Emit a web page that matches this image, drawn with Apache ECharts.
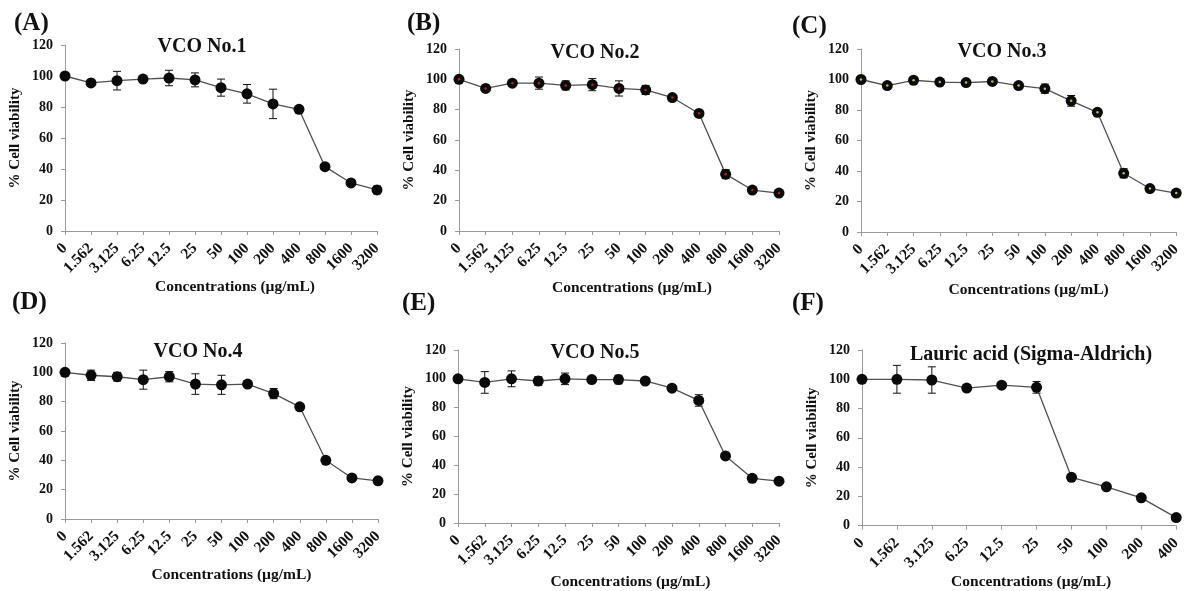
<!DOCTYPE html>
<html><head><meta charset="utf-8">
<script src="https://cdn.jsdelivr.net/npm/echarts@6/dist/echarts.min.js"></script>
<style>html,body{margin:0;padding:0;background:#fff}#c{width:1184px;height:591px}</style>
</head><body><div id="c"></div>
<script>
// ---- data ----
const concVCO = ['0','1.562','3.125','6.25','12.5','25','50','100','200','400','800','1600','3200'];
const concLA  = ['0','1.562','3.125','6.25','12.5','25','50','100','200','400'];
const yTicks = [0,20,40,60,80,100,120];

const vco1 = [100, 95.5, 97, 98, 98.7, 97.5, 92.5, 88.5, 82, 78.5, 41.5, 31, 26.5];
const vco1Err = [1, 1.5, 6, 1.5, 5, 4.5, 5.5, 6, 9.5, 1, 1, 1, 2.5];
const vco2 = [100, 94, 97.5, 97.5, 96, 96.5, 94, 93, 88, 77.5, 37.5, 27, 25];
const vco2Err = [1, 1, 1, 4, 3, 4, 5, 3, 1, 1, 3, 1, 1];
const vco3 = [100, 96, 99.5, 98.3, 98, 98.7, 96, 94, 86, 78.5, 38.5, 28.5, 25.5];
const vco3Err = [1, 1, 1, 1, 1, 1, 1, 3, 3.5, 1, 3, 1, 1];
const vco4 = [100, 98, 97, 95, 97, 92, 91.5, 92, 85.5, 76.5, 40, 28, 26];
const vco4Err = [1, 3.5, 3, 6.5, 3.5, 7, 6.5, 1, 3.5, 1, 1, 1, 1];
const vco5 = [100, 97.5, 100, 98.5, 100, 99.5, 99.5, 98.5, 93.5, 85, 46.5, 31, 29];
const vco5Err = [1, 7.5, 5.5, 3, 4, 1, 3, 1, 1, 4, 1, 1, 1];
const lauric = [100, 100, 99.5, 94, 96, 94.5, 33, 26.5, 19, 5.5];
const lauricErr = [1, 9.5, 9, 1, 1, 4, 1, 1, 1, 1];

const panelLetters = ['(A)','(B)','(C)','(D)','(E)','(F)'];
const panelTitles = ['VCO No.1','VCO No.2','VCO No.3','VCO No.4','VCO No.5','Lauric acid (Sigma-Aldrich)'];
const xName = 'Concentrations (µg/mL)';
const yName = '% Cell viability';

// ---- layout ----
const FONT = 'Liberation Serif';
const panels = [
  {cats: concVCO, v: vco1, e: vco1Err, grid:{left:65, top:45, width:312, height:186}, letter:[14,11], title:[202,37], xShift:14, xGap:47, dot:null},
  {cats: concVCO, v: vco2, e: vco2Err, grid:{left:459, top:49, width:320, height:182}, letter:[407,11], title:[595,43], xShift:13, xGap:49, dot:'#b0202a'},
  {cats: concVCO, v: vco3, e: vco3Err, grid:{left:861, top:49, width:317, height:183}, letter:[792,14], title:[1002,42], xShift:10, xGap:50, dot:'#b8c040'},
  {cats: concVCO, v: vco4, e: vco4Err, grid:{left:65, top:343, width:313, height:176}, letter:[12,290], title:[198,342], xShift:10, xGap:48, dot:null},
  {cats: concVCO, v: vco5, e: vco5Err, grid:{left:458, top:350, width:321, height:174}, letter:[402,291], title:[595,343], xShift:12, xGap:51, dot:null},
  {cats: concLA,  v: lauric, e: lauricErr, grid:{left:862, top:350, width:317, height:178}, letter:[792,291], title:[1031,345], xShift:12, xGap:39, dot:null}
];

const grids=[], xAxes=[], yAxes=[], series=[], titles=[];
panels.forEach((p,i)=>{
  grids.push(Object.assign({containLabel:false}, p.grid));
  xAxes.push({
    type:'category', gridIndex:i, data:p.cats, boundaryGap:false,
    name:xName, nameLocation:'middle', nameGap:p.xGap,
    nameTextStyle:{fontFamily:FONT, fontWeight:'bold', fontSize:15.5, color:'#111', padding:[0,0,0,p.xShift*2]},
    axisLine:{lineStyle:{color:'#9a9a9a', width:1}},
    axisTick:{show:true, interval:0, length:4, lineStyle:{color:'#9a9a9a'}},
    axisLabel:{interval:0, rotate:45, margin:15, fontFamily:FONT, fontWeight:'bold', fontSize:15.5, color:'#111'},
    splitLine:{show:false}
  });
  yAxes.push({
    type:'value', gridIndex:i, min:yTicks[0], max:yTicks[yTicks.length-1], interval:20,
    name:yName, nameLocation:'middle', nameGap:42, nameRotate:90,
    nameTextStyle:{fontFamily:FONT, fontWeight:'bold', fontSize:15, color:'#111'},
    axisLine:{show:true, lineStyle:{color:'#9a9a9a', width:1}},
    axisTick:{show:true, length:4, lineStyle:{color:'#9a9a9a'}},
    axisLabel:{margin:12, fontFamily:FONT, fontWeight:'bold', fontSize:14, color:'#111'},
    splitLine:{show:false}
  });
  const errData = p.v.map((val,k)=>[k, val-p.e[k], val+p.e[k]]);
  series.push({
    type:'custom', xAxisIndex:i, yAxisIndex:i, z:1, data:errData, clip:false,
    renderItem:function(params, api){
      const x = api.value(0);
      const lo = api.coord([x, api.value(1)]);
      const hi = api.coord([x, api.value(2)]);
      const w = 4;
      const st = {stroke:'#111', lineWidth:1};
      return {type:'group', children:[
        {type:'line', shape:{x1:lo[0], y1:lo[1], x2:hi[0], y2:hi[1]}, style:st},
        {type:'line', shape:{x1:lo[0]-w, y1:lo[1], x2:lo[0]+w, y2:lo[1]}, style:st},
        {type:'line', shape:{x1:hi[0]-w, y1:hi[1], x2:hi[0]+w, y2:hi[1]}, style:st}
      ]};
    }
  });
  series.push({
    type:'line', xAxisIndex:i, yAxisIndex:i, z:2, data:p.v, clip:false,
    symbol:'circle', symbolSize:11, showSymbol:true,
    itemStyle:{color:'#0a0a0a', borderWidth:0},
    lineStyle:{color:'#505050', width:1.3}
  });
  if(p.dot){
    series.push({
      type:'line', xAxisIndex:i, yAxisIndex:i, z:3, data:p.v, clip:false,
      symbol:'circle', symbolSize:2.5, lineStyle:{opacity:0},
      itemStyle:{color:p.dot}
    });
  }
  titles.push({text:panelLetters[i], left:p.letter[0], top:p.letter[1], padding:0,
    textStyle:{fontFamily:FONT, fontWeight:'bold', fontSize:25, color:'#111'}});
  titles.push({text:panelTitles[i], left:p.title[0], top:p.title[1], textAlign:'center', padding:0,
    textStyle:{fontFamily:FONT, fontWeight:'bold', fontSize:20, color:'#111'}});
});

const chart = echarts.init(document.getElementById('c'), null, {renderer:'canvas'});
chart.setOption({
  animation:false, backgroundColor:'#fff',
  title:titles, grid:grids, xAxis:xAxes, yAxis:yAxes, series:series
});
</script></body></html>
